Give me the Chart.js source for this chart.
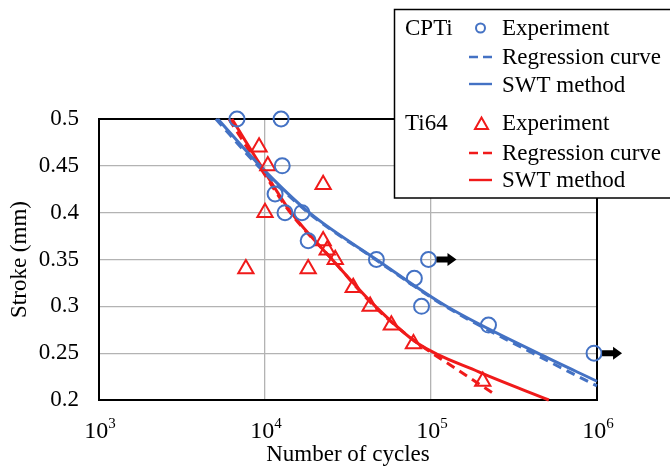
<!DOCTYPE html>
<html><head><meta charset="utf-8">
<script src="https://cdn.jsdelivr.net/npm/chart.js@4"></script>
<style>html,body{margin:0;padding:0;background:#fff;}canvas{display:block;}</style>
</head><body>
<canvas id="c" width="670" height="468"></canvas>
<script>
// ---- data ----
const xTickValues = [1e3, 1e4, 1e5, 1e6];
const xTickBase = '10';
const xTickExponents = ['3', '4', '5', '6'];
const yTickLabels = ['0.2', '0.25', '0.3', '0.35', '0.4', '0.45', '0.5'];

const cptiN = [6780, 12500, 12700, 11500, 13200, 16700, 18200, 46900, 79400, 96600, 87700, 222000, 960000];
const cptiS = [0.50, 0.50, 0.45, 0.42, 0.40, 0.40, 0.37, 0.35, 0.33, 0.35, 0.30, 0.28, 0.25];
const cptiRunout = [0, 0, 0, 0, 0, 0, 0, 0, 0, 1, 0, 0, 1];

const ti64N = [9210, 10400, 10000, 22400, 7670, 18200, 22400, 23700, 26500, 34000, 43000, 57700, 78400, 205000];
const ti64S = [0.47, 0.45, 0.40, 0.43, 0.34, 0.34, 0.37, 0.36, 0.35, 0.32, 0.30, 0.28, 0.26, 0.22];

const cptiRegN = [5060, 9070, 18200, 46300, 122000, 410000, 1000000];
const cptiRegS = [0.50, 0.45, 0.40, 0.35, 0.30, 0.25, 0.215];
const cptiSwtN = [5200, 9330, 18500, 46900, 124000, 440000, 1000000];
const cptiSwtS = [0.50, 0.45, 0.40, 0.35, 0.30, 0.25, 0.22];

const ti64RegN = [6060, 9210, 14200, 25400, 45600, 78400, 137000, 235000];
const ti64RegS = [0.50, 0.45, 0.40, 0.35, 0.30, 0.264, 0.235, 0.2075];
const ti64SwtN = [6320, 9460, 14400, 25400, 46300, 83900, 194000, 513000];
const ti64SwtS = [0.50, 0.45, 0.40, 0.35, 0.30, 0.26, 0.23, 0.20];

// ---- styles ----
const BLUE = '#4472C4';
const RED = '#F01A1A';
const FONT = '"Liberation Serif", "Times New Roman", "DejaVu Serif", serif';

const pts = (xs, ys) => xs.map((x, i) => ({x: x, y: ys[i]}));

const framePlugin = {
  id: 'frame',
  beforeDraw(chart) {
    const ctx = chart.ctx;
    ctx.save(); ctx.fillStyle = '#fff'; ctx.fillRect(0, 0, chart.width, chart.height); ctx.restore();
  },
  beforeDatasetsDraw(chart) {
    const {ctx, chartArea: a} = chart;
    ctx.save();
    ctx.strokeStyle = '#000'; ctx.lineWidth = 2;
    ctx.strokeRect(a.left, a.top, a.right - a.left, a.bottom - a.top);
    ctx.restore();
  },
  afterDatasetsDraw(chart) {
    const ctx = chart.ctx, xs = chart.scales.x, ys = chart.scales.y;
    // run-out arrows next to CPTi run-out points
    ctx.save(); ctx.fillStyle = '#000';
    cptiN.forEach((n, i) => {
      if (!cptiRunout[i]) return;
      const cx = xs.getPixelForValue(n), cy = ys.getPixelForValue(cptiS[i]);
      ctx.beginPath();
      ctx.moveTo(cx + 8, cy - 3);
      ctx.lineTo(cx + 19, cy - 3);
      ctx.lineTo(cx + 19, cy - 6.5);
      ctx.lineTo(cx + 28, cy);
      ctx.lineTo(cx + 19, cy + 6.5);
      ctx.lineTo(cx + 19, cy + 3);
      ctx.lineTo(cx + 8, cy + 3);
      ctx.closePath(); ctx.fill();
    });
    // x tick labels with superscript exponents
    ctx.fillStyle = '#000';
    ctx.textBaseline = 'alphabetic';
    ctx.textAlign = 'left';
    xTickValues.forEach((v, i) => {
      const px = xs.getPixelForValue(v);
      ctx.font = '24px ' + FONT;
      const wb = ctx.measureText(xTickBase).width;
      ctx.font = '15px ' + FONT;
      const we = ctx.measureText(xTickExponents[i]).width;
      const x0 = px - (wb + we) / 2 + 1;
      ctx.font = '24px ' + FONT;
      ctx.fillText(xTickBase, x0, 438);
      ctx.font = '15px ' + FONT;
      ctx.fillText(xTickExponents[i], x0 + wb, 428);
    });
    ctx.restore();
  },
  afterDraw(chart) {
    const ctx = chart.ctx;
    ctx.save();
    ctx.fillStyle = '#fff';
    ctx.fillRect(394, 9, 290, 189);
    ctx.strokeStyle = '#000'; ctx.lineWidth = 1.5;
    ctx.strokeRect(394.5, 9.5, 290, 188.5);
    ctx.font = '23px ' + FONT;
    ctx.textBaseline = 'alphabetic';
    ctx.textAlign = 'left';
    const rows = [
      {group: 'CPTi', label: 'Experiment', base: 35, my: 28, col: BLUE, kind: 'circle'},
      {group: '', label: 'Regression curve', base: 64, my: 57, col: BLUE, kind: 'dash'},
      {group: '', label: 'SWT method', base: 92, my: 84, col: BLUE, kind: 'line'},
      {group: 'Ti64', label: 'Experiment', base: 130, my: 124, col: RED, kind: 'tri'},
      {group: '', label: 'Regression curve', base: 160, my: 153, col: RED, kind: 'dash'},
      {group: '', label: 'SWT method', base: 187, my: 180, col: RED, kind: 'line'}
    ];
    rows.forEach(r => {
      ctx.fillStyle = '#000';
      if (r.group) ctx.fillText(r.group, 405, r.base);
      ctx.fillText(r.label, 502, r.base);
      ctx.strokeStyle = r.col;
      ctx.lineWidth = 2.4;
      ctx.beginPath();
      if (r.kind === 'circle') {
        ctx.lineWidth = 2;
        ctx.arc(480.5, r.my, 4.5, 0, Math.PI * 2);
      } else if (r.kind === 'tri') {
        ctx.lineWidth = 2;
        ctx.moveTo(481.5, r.my - 6.5);
        ctx.lineTo(488, r.my + 5);
        ctx.lineTo(475, r.my + 5);
        ctx.closePath();
      } else if (r.kind === 'dash') {
        ctx.moveTo(469, r.my); ctx.lineTo(478, r.my);
        ctx.moveTo(483, r.my); ctx.lineTo(492, r.my);
      } else {
        ctx.moveTo(469, r.my); ctx.lineTo(492, r.my);
      }
      ctx.stroke();
    });
    ctx.restore();
  }
};

const lineDs = (label, xs, ys, col, dash) => ({
  type: 'line', label: label, data: pts(xs, ys),
  borderColor: col, borderWidth: 3, borderDash: dash, pointRadius: 0,
  fill: false, cubicInterpolationMode: 'monotone', order: 2, clip: 4
});

new Chart(document.getElementById('c'), {
  type: 'scatter',
  data: {
    datasets: [
      {label: 'CPTi Experiment', data: pts(cptiN, cptiS), pointStyle: 'circle', pointRadius: 7.5,
       borderColor: BLUE, backgroundColor: 'rgba(0,0,0,0)', borderWidth: 2, showLine: false, order: 0, clip: false},
      {label: 'Ti64 Experiment', data: pts(ti64N, ti64S), pointStyle: 'triangle', pointRadius: 8.8,
       borderColor: RED, backgroundColor: 'rgba(0,0,0,0)', borderWidth: 2, showLine: false, order: 0, clip: false},
      lineDs('CPTi Regression curve', cptiRegN, cptiRegS, BLUE, [9, 6]),
      lineDs('CPTi SWT method', cptiSwtN, cptiSwtS, BLUE, []),
      lineDs('Ti64 Regression curve', ti64RegN, ti64RegS, RED, [9, 6]),
      lineDs('Ti64 SWT method', ti64SwtN, ti64SwtS, RED, [])
    ]
  },
  options: {
    responsive: false, animation: false, devicePixelRatio: 1,
    layout: {padding: {left: 0, right: 73, top: 119, bottom: 0}},
    plugins: {legend: {display: false}, tooltip: {enabled: false}},
    scales: {
      x: {
        type: 'logarithmic', min: 1e3, max: 1e6,
        afterBuildTicks: s => { s.ticks = xTickValues.map(v => ({value: v})); },
        afterFit: s => { s.height = 68; },
        ticks: {
          padding: 12, color: '#000', maxRotation: 0, autoSkip: false,
          font: {family: FONT, size: 23},
          callback: () => ''
        },
        grid: {color: '#b3b3b3', lineWidth: 1.3, drawTicks: false},
        border: {display: false},
        title: {display: true, text: 'Number of cycles', color: '#000',
                font: {family: FONT, size: 23, lineHeight: 1.0}, padding: {top: 0, bottom: 2}}
      },
      y: {
        min: 0.2, max: 0.5,
        afterBuildTicks: s => { s.ticks = yTickLabels.map(t => ({value: parseFloat(t)})); },
        afterFit: s => { s.width = 99; },
        ticks: {
          padding: 20, color: '#000', font: {family: FONT, size: 23},
          callback: (v) => { const i = yTickLabels.findIndex(t => Math.abs(parseFloat(t) - v) < 1e-9); return i >= 0 ? yTickLabels[i] : ''; }
        },
        grid: {color: '#b3b3b3', lineWidth: 1.3, drawTicks: false},
        border: {display: false},
        title: {display: true, text: 'Stroke (mm)', color: '#000',
                font: {family: FONT, size: 23, lineHeight: 1.2}, padding: {top: 6, bottom: 0}}
      }
    }
  },
  plugins: [framePlugin]
});
</script>
</body></html>
